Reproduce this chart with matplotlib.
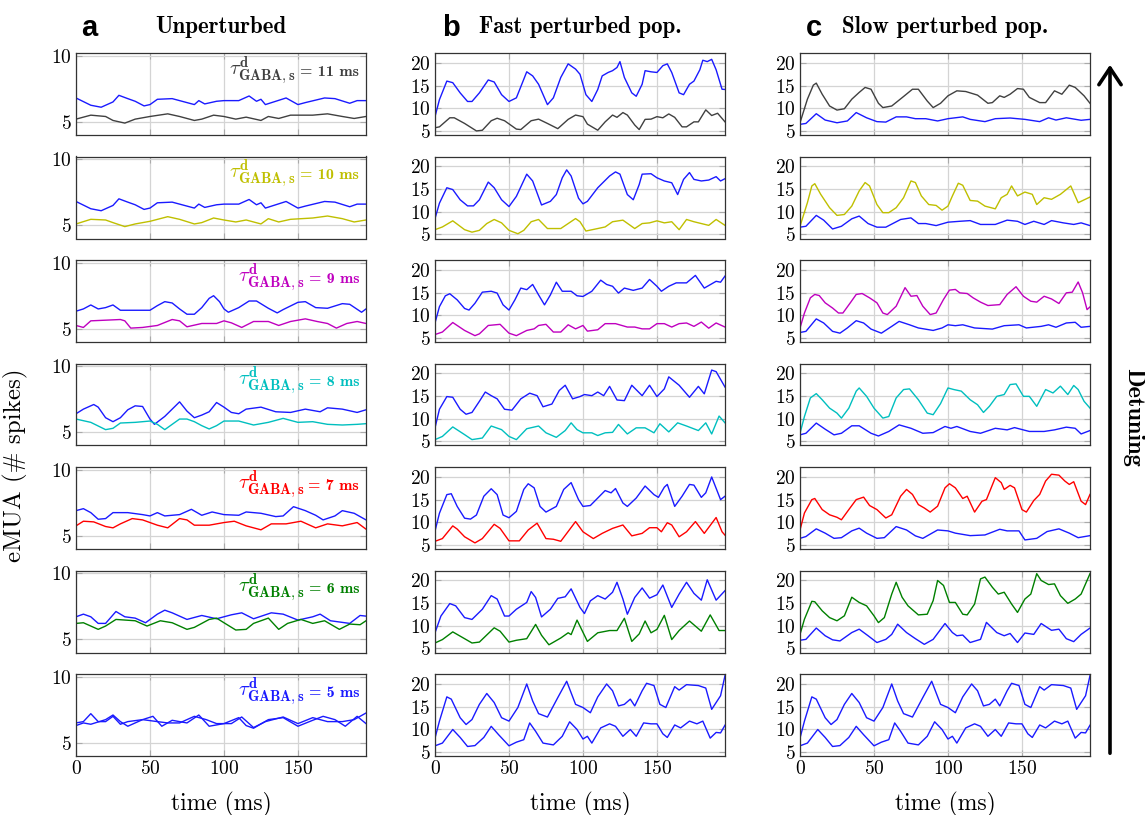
import matplotlib
matplotlib.use("Agg")
import matplotlib.pyplot as plt
import numpy as np
from matplotlib.patches import FancyArrowPatch

plt.rcParams['font.family'] = ['cmr10', 'DejaVu Serif']
plt.rcParams['mathtext.fontset'] = 'cm'
plt.rcParams['axes.formatter.use_mathtext'] = True

# ---- data: (time ms, eMUA) ----
# column a: unperturbed
a_blue_top = [(0, 6.8), (10, 6.25), (17, 6.1), (20, 6.25), (25, 6.5), (29, 7.0), (35, 6.75), (40, 6.55),
              (46, 6.2), (50, 6.3), (55, 6.7), (65, 6.75), (70, 6.6), (80, 6.3), (83, 6.6), (87, 6.35),
              (95, 6.55), (100, 6.6), (110, 6.6), (117, 6.95), (122, 6.55), (125, 6.7), (128, 6.3),
              (135, 6.55), (142, 6.8), (150, 6.3), (155, 6.45), (168, 6.8), (175, 6.75), (185, 6.4),
              (190, 6.6), (196, 6.6)]
a_gray = [(0, 5.2), (10, 5.5), (20, 5.4), (25, 5.1), (33, 4.9), (40, 5.2), (50, 5.4), (62, 5.6), (70, 5.4),
          (80, 5.1), (85, 5.2), (93, 5.5), (100, 5.4), (108, 5.2), (115, 5.35), (125, 5.1), (130, 5.4),
          (137, 5.25), (145, 5.5), (160, 5.5), (170, 5.6), (180, 5.4), (188, 5.25), (196, 5.4)]
a_yellow = [(0, 5.1), (10, 5.45), (20, 5.4), (25, 5.2), (33, 4.9), (40, 5.1), (50, 5.3), (62, 5.65), (70, 5.45),
            (80, 5.1), (85, 5.2), (93, 5.55), (100, 5.4), (108, 5.25), (115, 5.4), (125, 5.1), (130, 5.5),
            (137, 5.25), (145, 5.45), (160, 5.55), (170, 5.7), (180, 5.5), (188, 5.25), (196, 5.4)]
a_blue_9 = [(0, 6.33), (5, 6.5), (10, 6.8), (15, 6.5), (20, 6.6), (25, 6.8), (30, 6.4), (40, 6.4), (50, 6.4),
            (55, 6.75), (60, 7.05), (65, 6.95), (70, 6.5), (75, 6.1), (80, 6.1), (85, 6.6), (90, 7.3), (93, 7.5),
            (97, 7.05), (100, 6.5), (103, 6.25), (110, 6.6), (117, 7.1), (122, 7.1), (130, 6.55), (136, 6.2),
            (140, 6.45), (150, 7.0), (155, 7.05), (162, 6.6), (170, 6.55), (180, 6.9), (185, 6.85),
            (193, 6.25), (196, 6.5)]
a_magenta = [(0, 5.25), (5, 5.1), (10, 5.6), (20, 5.65), (30, 5.7), (33, 5.6), (37, 5.05), (45, 5.1), (55, 5.25),
             (65, 5.7), (70, 5.6), (75, 5.15), (85, 5.4), (95, 5.4), (100, 5.6), (105, 5.45), (112, 5.1),
             (120, 5.55), (130, 5.55), (137, 5.25), (145, 5.55), (155, 5.75), (163, 5.55), (170, 5.4),
             (176, 5.05), (183, 5.4), (190, 5.55), (196, 5.4)]
a_blue_8 = [(0, 6.4), (5, 6.75), (12, 7.1), (15, 6.9), (20, 6.1), (25, 5.8), (30, 6.1), (35, 6.7), (40, 7.0),
            (45, 6.95), (50, 6.0), (53, 5.6), (60, 6.2), (70, 7.3), (75, 6.6), (80, 6.1), (85, 6.3), (90, 6.55),
            (95, 7.25), (100, 6.9), (105, 6.5), (110, 6.4), (115, 6.75), (125, 6.9), (135, 6.55), (145, 6.5),
            (155, 6.75), (165, 6.55), (170, 6.85), (180, 6.75), (190, 6.5), (196, 6.7)]
a_cyan = [(0, 6.0), (10, 5.75), (20, 5.2), (25, 5.3), (30, 5.7), (40, 5.75), (50, 5.85), (55, 5.6), (60, 5.2),
          (65, 5.6), (70, 6.0), (75, 6.0), (80, 5.8), (85, 5.5), (90, 5.25), (95, 5.5), (100, 5.85), (110, 5.85),
          (120, 5.55), (130, 5.75), (140, 6.05), (150, 5.75), (160, 5.8), (170, 5.6), (180, 5.55), (190, 5.6),
          (196, 5.65)]
a_blue_7 = [(0, 6.9), (5, 7.05), (10, 6.75), (15, 6.25), (20, 6.3), (25, 6.75), (35, 6.75), (45, 6.6), (50, 6.5),
            (55, 6.75), (60, 6.5), (70, 6.6), (78, 7.0), (85, 6.55), (92, 6.8), (100, 6.6), (110, 6.55),
            (115, 6.8), (125, 6.7), (135, 6.45), (140, 6.5), (147, 7.2), (155, 6.9), (162, 6.55), (167, 6.2),
            (175, 6.5), (180, 6.9), (188, 6.7), (196, 6.2)]
a_red = [(0, 5.75), (5, 6.1), (12, 6.05), (20, 5.7), (25, 5.6), (30, 5.9), (38, 6.3), (45, 6.2), (55, 5.8),
         (62, 5.6), (70, 6.3), (75, 6.2), (80, 5.8), (90, 5.8), (100, 6.0), (107, 6.1), (115, 5.75), (125, 5.45),
         (132, 5.9), (142, 5.9), (152, 6.1), (162, 5.6), (170, 5.9), (180, 5.75), (190, 6.0), (196, 5.5)]
a_blue_6 = [(0, 6.7), (5, 6.9), (10, 6.7), (15, 6.2), (20, 6.2), (27, 7.1), (33, 6.7), (40, 6.6), (47, 6.25),
            (55, 6.9), (60, 7.2), (65, 7.0), (75, 6.5), (85, 6.8), (95, 6.55), (105, 6.85), (112, 7.0),
            (120, 6.55), (132, 7.0), (140, 6.9), (150, 6.45), (160, 6.7), (165, 6.9), (172, 6.4), (185, 6.2),
            (192, 6.8), (196, 6.75)]
a_green = [(0, 6.2), (5, 6.25), (15, 5.75), (20, 6.0), (27, 6.5), (40, 6.4), (48, 6.0), (57, 6.4), (65, 6.25),
           (75, 5.75), (80, 5.9), (90, 6.5), (95, 6.6), (100, 6.25), (108, 5.7), (115, 5.75), (120, 6.2),
           (130, 6.6), (137, 5.75), (143, 6.2), (152, 6.5), (160, 6.2), (168, 6.4), (178, 5.75), (185, 6.15),
           (192, 6.1), (196, 6.4)]
a_blue_5a = [(0, 6.5), (5, 6.6), (10, 7.2), (15, 6.6), (20, 6.6), (25, 7.0), (30, 6.4), (35, 6.6), (45, 6.75),
             (52, 7.0), (58, 6.25), (65, 6.7), (75, 6.5), (83, 7.1), (90, 6.25), (100, 6.45), (110, 6.9),
             (115, 6.3), (120, 6.1), (130, 6.75), (140, 6.9), (150, 6.25), (160, 6.7), (167, 7.0), (175, 6.75),
             (182, 6.25), (190, 7.0), (196, 6.45)]
a_blue_5b = [(0, 6.3), (5, 6.5), (10, 6.4), (20, 6.75), (25, 7.1), (30, 6.6), (35, 6.25), (45, 6.75), (55, 6.6),
             (62, 6.5), (70, 6.5), (80, 7.0), (88, 6.75), (95, 6.45), (105, 6.45), (112, 6.95), (120, 6.15),
             (128, 6.6), (140, 6.95), (150, 6.45), (160, 6.9), (170, 6.6), (180, 6.6), (188, 6.75), (196, 7.25)]

# column b: fast population perturbed
b_blue_11 = [(0, 8.15), (3, 11.9), (8, 16.0), (12, 15.65), (17, 13.4), (22, 11.5), (25, 11.5), (30, 13.4),
             (36, 16.25), (40, 15.8), (45, 13.0), (50, 11.5), (55, 12.3), (60, 16.4), (62, 18.05), (66, 17.15),
             (70, 15.3), (76, 10.8), (80, 12.3), (85, 16.8), (90, 19.8), (95, 18.65), (98, 17.5), (102, 13.0),
             (106, 11.5), (110, 14.15), (113, 17.15), (117, 17.9), (120, 18.3), (123, 19.0), (125, 20.3),
             (128, 16.8), (133, 13.4), (136, 12.65), (140, 15.3), (142, 18.3), (146, 18.05), (150, 17.9),
             (154, 19.4), (157, 19.8), (160, 17.9), (165, 13.4), (168, 13.0), (172, 15.3), (175, 16.0),
             (179, 18.5), (181, 20.6), (184, 20.3), (187, 20.8), (190, 18.5), (194, 14.2), (196, 14.15)]
b_gray = [(0, 5.7), (3, 5.9), (10, 7.9), (13, 7.9), (20, 6.65), (28, 5.0), (32, 5.15), (38, 7.25), (42, 7.8),
          (47, 7.25), (55, 5.4), (58, 5.3), (65, 7.25), (70, 7.6), (76, 6.65), (83, 5.5), (90, 7.55), (95, 8.5),
          (100, 8.15), (103, 6.5), (110, 5.15), (115, 7.0), (120, 8.5), (123, 8.0), (127, 9.05), (130, 8.5),
          (135, 6.3), (138, 5.3), (142, 7.55), (146, 7.6), (150, 8.15), (154, 7.9), (158, 8.75), (162, 8.0),
          (167, 5.9), (170, 5.9), (175, 7.0), (178, 7.0), (183, 9.65), (187, 8.4), (191, 8.9), (196, 7.0)]
b_blue_10 = [(0, 8.5), (3, 11.9), (8, 15.3), (12, 14.9), (17, 12.65), (22, 11.3), (26, 11.3), (30, 12.65),
             (36, 16.55), (40, 15.3), (45, 12.65), (50, 11.15), (55, 13.4), (62, 18.3), (66, 16.8), (72, 11.5),
             (78, 12.3), (82, 13.8), (86, 17.5), (89, 19.25), (92, 17.9), (97, 13.0), (100, 11.75), (103, 12.3),
             (110, 15.3), (118, 17.9), (122, 18.8), (125, 18.3), (130, 13.8), (134, 12.65), (138, 16.0),
             (140, 18.3), (146, 18.4), (150, 17.5), (155, 16.8), (160, 16.4), (164, 13.8), (168, 17.15),
             (172, 18.65), (175, 17.15), (180, 16.8), (185, 17.0), (190, 17.75), (193, 16.8), (196, 17.3)]
b_yellow = [(0, 6.05), (5, 6.65), (12, 8.0), (20, 6.05), (25, 5.5), (30, 5.9), (35, 7.4), (40, 8.3), (45, 7.55),
            (50, 5.9), (56, 5.15), (60, 5.9), (65, 7.8), (70, 8.3), (76, 6.3), (85, 6.3), (90, 7.4), (95, 8.5),
            (98, 7.8), (102, 5.75), (110, 6.3), (115, 6.65), (120, 7.8), (127, 8.15), (135, 6.3), (140, 7.4),
            (145, 7.55), (150, 8.0), (155, 7.55), (160, 7.8), (165, 6.05), (170, 8.3), (175, 7.8), (185, 7.0),
            (190, 8.3), (196, 7.0)]
b_blue_9 = [(0, 8.3), (3, 11.9), (7, 14.3), (10, 14.75), (15, 13.4), (20, 11.5), (23, 11.15), (27, 12.65),
            (32, 15.1), (38, 15.3), (42, 14.9), (46, 12.3), (50, 11.15), (54, 13.4), (58, 16.0), (62, 15.65),
            (66, 16.8), (70, 14.5), (74, 12.3), (78, 14.5), (82, 17.3), (86, 15.3), (92, 15.3), (96, 14.3),
            (100, 14.15), (106, 15.3), (112, 17.75), (116, 16.8), (120, 16.4), (124, 14.9), (128, 16.0),
            (134, 15.5), (140, 16.0), (145, 17.9), (150, 16.4), (153, 15.3), (158, 16.4), (163, 17.15),
            (170, 17.15), (176, 18.8), (182, 16.0), (190, 17.5), (193, 17.3), (196, 18.65)]
b_magenta = [(0, 5.75), (5, 6.3), (12, 8.4), (20, 6.65), (27, 5.5), (30, 5.9), (36, 7.75), (44, 8.0), (50, 6.05),
             (55, 5.5), (62, 6.65), (67, 7.0), (70, 7.75), (75, 8.0), (80, 6.3), (85, 6.3), (90, 7.9), (95, 7.0),
             (100, 7.75), (103, 6.5), (110, 6.8), (115, 8.15), (122, 8.15), (130, 7.4), (135, 7.4), (140, 7.0),
             (145, 7.0), (150, 8.15), (155, 8.15), (160, 7.4), (165, 8.15), (170, 8.3), (175, 7.55), (180, 8.5),
             (185, 7.15), (190, 8.3), (196, 7.4)]
b_blue_8 = [(0, 8.0), (3, 12.1), (8, 14.9), (12, 14.75), (17, 12.1), (21, 11.0), (25, 11.4), (30, 13.85),
            (34, 15.9), (38, 15.1), (42, 14.4), (47, 12.1), (52, 11.9), (58, 14.4), (64, 15.65), (69, 15.1),
            (73, 12.65), (79, 13.25), (84, 16.25), (88, 17.4), (93, 14.4), (98, 14.9), (101, 15.35), (106, 15.1),
            (110, 15.9), (114, 15.1), (118, 17.15), (123, 14.15), (128, 14.0), (133, 17.4), (140, 15.1),
            (145, 17.4), (150, 14.9), (155, 16.6), (158, 19.25), (165, 17.4), (172, 14.75), (178, 17.15),
            (182, 15.5), (187, 20.75), (190, 20.4), (196, 17.0)]
b_cyan = [(0, 5.4), (5, 6.1), (12, 8.2), (20, 6.5), (25, 5.4), (32, 5.75), (38, 8.4), (45, 7.6), (50, 6.1),
          (55, 5.4), (62, 7.8), (70, 8.4), (75, 6.9), (82, 5.9), (88, 7.4), (92, 9.1), (96, 7.6), (100, 6.9),
          (106, 6.9), (110, 6.3), (115, 6.9), (120, 7.0), (124, 8.75), (130, 6.65), (136, 8.0), (142, 8.0),
          (148, 6.9), (152, 8.9), (158, 7.1), (164, 9.1), (170, 8.4), (178, 7.4), (183, 9.1), (187, 6.65),
          (192, 10.6), (196, 9.1)]
b_blue_7 = [(0, 8.05), (3, 12.0), (8, 16.1), (11, 16.3), (15, 13.5), (20, 10.9), (24, 10.7), (28, 11.6),
            (33, 15.75), (38, 17.4), (42, 16.1), (46, 11.6), (50, 11.0), (55, 12.4), (60, 17.25), (63, 18.5),
            (67, 17.6), (71, 13.5), (75, 12.25), (82, 13.5), (87, 17.25), (92, 18.75), (97, 15.0), (100, 13.5),
            (105, 13.7), (110, 15.35), (115, 17.0), (119, 16.5), (122, 17.45), (127, 14.25), (130, 13.5),
            (136, 15.35), (142, 18.0), (148, 16.1), (151, 15.5), (155, 17.75), (157, 18.35), (162, 13.5),
            (167, 15.75), (172, 18.35), (175, 18.2), (180, 15.5), (183, 16.5), (187, 20.0), (193, 15.0),
            (196, 15.75)]
b_red = [(0, 5.8), (5, 6.4), (12, 9.2), (15, 8.5), (20, 6.8), (27, 5.45), (32, 6.4), (40, 9.55), (44, 8.65),
         (50, 5.9), (57, 5.9), (63, 8.3), (69, 9.8), (75, 6.4), (80, 6.25), (85, 5.8), (95, 10.15), (100, 7.9),
         (107, 6.4), (113, 7.55), (120, 8.65), (127, 9.4), (133, 7.0), (140, 7.55), (145, 8.8), (150, 8.8),
         (153, 7.9), (157, 9.9), (160, 9.4), (165, 6.8), (170, 7.9), (176, 10.15), (182, 7.55), (190, 11.05),
         (194, 7.9), (196, 7.15)]
b_blue_6 = [(0, 8.45), (4, 12.15), (10, 14.9), (14, 14.4), (20, 11.8), (25, 11.4), (32, 13.65), (38, 16.65),
            (42, 15.9), (47, 12.15), (50, 12.15), (55, 13.65), (62, 15.15), (65, 17.55), (68, 16.25), (72, 11.95),
            (78, 13.65), (83, 16.05), (88, 16.4), (92, 18.15), (98, 14.05), (101, 12.7), (105, 15.5), (110, 16.65),
            (115, 15.9), (120, 17.4), (123, 19.6), (127, 15.9), (130, 12.55), (135, 16.25), (140, 18.35),
            (145, 16.1), (150, 16.85), (154, 19.0), (160, 14.05), (165, 17.0), (170, 19.6), (175, 17.15),
            (180, 15.65), (184, 20.15), (190, 15.65), (196, 17.75)]
b_green = [(0, 6.2), (5, 6.95), (12, 8.65), (20, 7.15), (25, 6.2), (30, 6.4), (40, 9.55), (44, 8.8), (50, 6.4),
           (55, 6.8), (62, 7.15), (68, 10.3), (72, 7.9), (77, 5.8), (85, 7.3), (90, 8.45), (92, 8.05), (96, 11.25),
           (103, 6.55), (110, 8.45), (118, 8.95), (123, 8.95), (128, 11.65), (133, 6.55), (138, 8.2), (142, 11.05),
           (146, 8.45), (150, 9.2), (155, 12.3), (160, 6.95), (165, 8.95), (172, 11.05), (180, 8.8), (186, 12.4),
           (192, 8.95), (196, 8.95)]
bc_blue_5_top = [(0, 8.05), (3, 11.8), (8, 17.15), (11, 16.65), (17, 12.55), (21, 11.05), (25, 12.15), (30, 15.5),
                 (35, 17.9), (40, 15.9), (45, 12.55), (50, 11.8), (56, 14.8), (62, 20.0), (66, 16.25), (70, 13.45),
                 (76, 12.7), (83, 17.0), (89, 20.6), (95, 15.5), (100, 14.8), (105, 13.65), (110, 17.15),
                 (116, 20.0), (120, 18.5), (124, 15.15), (128, 15.5), (132, 16.65), (135, 15.15), (140, 18.5),
                 (143, 20.15), (148, 19.65), (152, 15.5), (156, 14.8), (162, 19.4), (165, 18.65), (170, 19.85),
                 (178, 19.65), (183, 19.1), (187, 14.4), (190, 15.9), (193, 17.4), (196, 21.85)]
bc_blue_5_bot = [(0, 6.35), (5, 6.95), (12, 9.95), (17, 8.2), (22, 6.2), (27, 6.4), (33, 8.2), (38, 10.65),
                 (43, 8.8), (50, 6.35), (55, 7.15), (60, 7.7), (64, 11.4), (68, 9.55), (73, 6.95), (80, 6.55),
                 (86, 8.45), (91, 11.65), (96, 9.95), (100, 7.85), (103, 8.45), (106, 6.95), (112, 10.3),
                 (118, 11.2), (122, 10.65), (127, 8.45), (132, 9.95), (136, 8.45), (141, 11.4), (146, 11.2),
                 (150, 11.2), (154, 9.0), (157, 8.2), (162, 10.95), (166, 10.3), (172, 11.8), (177, 11.2),
                 (181, 11.8), (186, 8.05), (190, 9.3), (193, 9.2), (196, 10.9)]

# column c: slow population perturbed
c_gray = [(0, 6.8), (5, 12.0), (9, 15.1), (11, 15.55), (15, 13.1), (20, 10.5), (25, 9.6), (30, 9.9), (35, 12.0),
          (40, 13.5), (44, 14.6), (48, 14.2), (53, 11.1), (56, 10.15), (62, 10.5), (70, 12.6), (76, 14.2),
          (80, 14.2), (86, 11.6), (90, 10.15), (95, 11.1), (100, 12.75), (106, 13.85), (112, 13.7), (120, 12.9),
          (127, 11.1), (130, 11.25), (135, 12.75), (138, 12.4), (142, 13.1), (147, 14.35), (151, 14.2),
          (155, 12.4), (162, 11.25), (166, 11.25), (172, 13.85), (177, 13.1), (182, 15.1), (186, 14.6),
          (192, 12.75), (196, 11.1)]
c_blue_11 = [(0, 6.45), (4, 6.65), (11, 8.8), (17, 7.4), (25, 6.8), (32, 7.2), (38, 9.05), (45, 7.9), (52, 7.05),
             (58, 6.95), (65, 8.1), (72, 8.1), (78, 7.7), (85, 7.7), (93, 7.2), (100, 7.7), (110, 8.1), (115, 7.55),
             (125, 7.05), (132, 7.7), (142, 7.85), (152, 7.55), (162, 7.05), (168, 7.9), (173, 7.4), (180, 7.9),
             (190, 7.35), (196, 7.55)]
c_yellow = [(0, 6.8), (5, 12.0), (8, 15.7), (10, 16.2), (14, 13.85), (20, 10.9), (25, 9.2), (30, 9.4), (35, 11.25),
            (40, 14.6), (44, 16.45), (47, 15.7), (52, 11.6), (56, 9.8), (60, 9.8), (65, 10.9), (70, 13.1),
            (75, 16.8), (78, 16.45), (82, 13.5), (87, 11.6), (92, 11.4), (96, 10.35), (100, 11.25), (103, 13.5),
            (107, 16.3), (110, 15.85), (115, 12.5), (120, 12.35), (125, 11.25), (132, 10.65), (136, 13.1),
            (140, 13.85), (143, 15.7), (147, 13.5), (152, 14.35), (157, 13.85), (160, 11.6), (165, 13.1),
            (170, 12.75), (176, 13.85), (183, 15.7), (188, 12.0), (196, 13.25)]
c_blue_10 = [(0, 6.6), (4, 6.8), (11, 9.2), (16, 8.15), (22, 6.2), (28, 6.8), (35, 8.45), (40, 9.05), (46, 7.4),
             (52, 6.6), (58, 6.6), (68, 8.3), (75, 8.65), (80, 7.4), (85, 7.4), (92, 6.95), (100, 7.7), (108, 7.9),
             (115, 8.05), (122, 7.2), (132, 7.2), (140, 8.15), (147, 7.9), (152, 7.2), (158, 7.9), (165, 7.2),
             (170, 8.05), (178, 7.55), (185, 7.2), (190, 7.55), (196, 6.95)]
c_magenta = [(0, 7.2), (3, 10.5), (7, 13.85), (10, 14.6), (13, 14.35), (17, 12.75), (22, 11.6), (26, 10.5),
             (29, 10.5), (34, 12.75), (38, 14.6), (42, 14.8), (47, 13.85), (52, 12.75), (56, 10.5), (59, 10.15),
             (65, 12.0), (71, 16.1), (75, 14.2), (79, 14.35), (83, 12.0), (88, 10.15), (92, 10.5), (97, 13.5),
             (101, 15.55), (105, 15.7), (108, 14.95), (113, 14.8), (117, 13.85), (122, 12.9), (127, 12.15),
             (135, 12.35), (140, 14.6), (146, 16.3), (151, 14.2), (156, 13.1), (160, 12.9), (165, 14.2),
             (170, 13.6), (175, 12.6), (180, 14.95), (184, 15.1), (188, 17.35), (191, 14.95), (194, 11.25),
             (196, 11.85)]
c_blue_9 = [(0, 6.2), (4, 6.45), (11, 9.2), (16, 8.3), (22, 6.45), (27, 6.05), (32, 7.2), (38, 8.8), (43, 8.3),
            (48, 6.95), (55, 6.05), (62, 7.55), (67, 8.65), (74, 7.9), (80, 7.2), (90, 6.65), (96, 7.2), (100, 7.9),
            (105, 7.7), (110, 7.9), (118, 7.2), (130, 6.95), (138, 7.7), (148, 7.9), (153, 7.2), (163, 7.55),
            (168, 7.9), (173, 7.35), (180, 8.3), (186, 8.45), (190, 7.35), (196, 7.55)]
c_cyan = [(0, 6.8), (3, 10.5), (7, 14.6), (11, 15.55), (15, 14.2), (20, 12.35), (25, 11.25), (28, 10.15),
          (33, 12.35), (38, 16.1), (40, 16.8), (45, 14.95), (50, 12.35), (56, 10.15), (60, 10.5), (65, 14.6),
          (70, 16.45), (74, 16.6), (80, 14.2), (86, 11.25), (90, 10.9), (95, 13.35), (100, 16.8), (104, 16.45),
          (109, 16.1), (115, 14.2), (120, 13.1), (124, 11.4), (128, 12.75), (133, 14.95), (138, 15.35),
          (142, 17.55), (146, 17.7), (151, 14.95), (155, 14.95), (160, 12.75), (166, 16.45), (171, 15.7),
          (176, 17.2), (181, 15.35), (185, 17.35), (188, 16.45), (192, 13.85), (196, 12.35)]
c_blue_8 = [(0, 6.45), (4, 6.8), (11, 9.05), (17, 7.7), (23, 6.45), (28, 6.8), (35, 8.45), (40, 8.45), (48, 6.8),
            (53, 6.2), (60, 7.2), (67, 8.65), (75, 7.9), (83, 6.8), (90, 6.95), (98, 8.3), (102, 7.9), (106, 8.3),
            (115, 7.2), (122, 6.8), (132, 7.9), (140, 7.55), (145, 8.05), (155, 7.2), (165, 7.2), (172, 7.55),
            (180, 8.15), (186, 7.9), (190, 6.65), (196, 7.4)]
c_red = [(0, 8.3), (3, 12.05), (8, 15.0), (10, 15.25), (15, 12.8), (20, 11.65), (25, 11.1), (28, 10.55),
         (33, 12.8), (38, 15.0), (43, 15.55), (47, 13.7), (52, 12.8), (58, 10.95), (62, 11.65), (68, 15.75),
         (72, 17.25), (76, 16.15), (80, 13.9), (84, 13.15), (88, 12.25), (93, 13.55), (98, 17.6), (101, 18.5),
         (105, 17.6), (110, 15.25), (113, 15.75), (118, 12.25), (123, 14.65), (126, 15.0), (132, 19.85),
         (136, 18.75), (138, 17.25), (142, 18.15), (145, 17.6), (150, 12.8), (153, 12.25), (158, 14.8),
         (162, 16.15), (166, 19.1), (170, 20.6), (175, 20.4), (179, 19.1), (182, 18.35), (185, 18.95),
         (190, 14.65), (193, 13.9), (196, 16.15)]
c_blue_7 = [(0, 6.45), (4, 6.85), (11, 8.55), (17, 7.6), (23, 6.45), (28, 6.6), (35, 8.1), (40, 8.7), (45, 7.6),
            (52, 6.45), (57, 6.6), (65, 9.05), (72, 8.3), (78, 7.0), (83, 6.45), (93, 8.3), (100, 8.1), (105, 7.6),
            (115, 7.05), (125, 7.2), (135, 8.45), (140, 8.1), (148, 8.1), (152, 6.1), (160, 6.45), (167, 7.95),
            (175, 8.55), (182, 7.6), (188, 6.6), (196, 7.05)]
c_green = [(0, 8.1), (3, 11.45), (8, 15.4), (10, 15.3), (15, 13.3), (20, 11.8), (25, 11.1), (30, 12.2), (35, 16.3),
           (40, 15.15), (45, 14.4), (50, 12.2), (53, 10.7), (57, 11.8), (62, 17.0), (65, 19.6), (69, 16.3),
           (73, 14.4), (80, 12.4), (86, 12.55), (90, 15.55), (93, 20.0), (97, 18.9), (101, 15.15), (105, 15.15),
           (110, 12.55), (113, 12.4), (118, 14.8), (122, 20.35), (125, 20.75), (130, 18.5), (134, 17.0),
           (138, 17.4), (143, 14.8), (147, 12.95), (152, 15.9), (156, 17.0), (160, 21.5), (163, 20.0),
           (168, 19.1), (172, 19.25), (176, 16.65), (181, 14.95), (186, 15.9), (190, 17.0), (196, 21.5)]
c_blue_6 = [(0, 6.8), (4, 7.0), (11, 9.5), (17, 7.8), (22, 6.9), (27, 6.65), (35, 8.5), (40, 9.25), (46, 7.8),
            (52, 6.3), (58, 7.0), (62, 8.1), (66, 10.35), (72, 8.5), (78, 7.15), (84, 5.9), (90, 7.0), (98, 10.5),
            (103, 8.5), (106, 7.8), (110, 7.95), (115, 6.3), (122, 7.0), (126, 10.75), (133, 8.5), (138, 7.8),
            (142, 8.3), (147, 6.3), (152, 8.4), (158, 8.1), (163, 10.5), (170, 9.0), (175, 9.25), (180, 7.15),
            (185, 6.5), (190, 8.1), (196, 9.5)]

tau_values = [11, 10, 9, 8, 7, 6, 5]
row_colors = ['#404040', '#bfbf00', '#bf00bf', '#00bfbf', '#ff0000', '#008000', '#1a1aff']
col_titles = ['Unperturbed', 'Fast perturbed pop.', 'Slow perturbed pop.']
panel_letters = ['a', 'b', 'c']

BLUE = '#1a1aff'
# each panel: list of (curve, colour)
col_a = [[(a_blue_top, BLUE), (a_gray, row_colors[0])],
         [(a_blue_top, BLUE), (a_yellow, row_colors[1])],
         [(a_blue_9, BLUE), (a_magenta, row_colors[2])],
         [(a_blue_8, BLUE), (a_cyan, row_colors[3])],
         [(a_blue_7, BLUE), (a_red, row_colors[4])],
         [(a_blue_6, BLUE), (a_green, row_colors[5])],
         [(a_blue_5a, BLUE), (a_blue_5b, BLUE)]]
col_b = [[(b_blue_11, BLUE), (b_gray, row_colors[0])],
         [(b_blue_10, BLUE), (b_yellow, row_colors[1])],
         [(b_blue_9, BLUE), (b_magenta, row_colors[2])],
         [(b_blue_8, BLUE), (b_cyan, row_colors[3])],
         [(b_blue_7, BLUE), (b_red, row_colors[4])],
         [(b_blue_6, BLUE), (b_green, row_colors[5])],
         [(bc_blue_5_top, BLUE), (bc_blue_5_bot, BLUE)]]
col_c = [[(c_gray, row_colors[0]), (c_blue_11, BLUE)],
         [(c_yellow, row_colors[1]), (c_blue_10, BLUE)],
         [(c_magenta, row_colors[2]), (c_blue_9, BLUE)],
         [(c_cyan, row_colors[3]), (c_blue_8, BLUE)],
         [(c_red, row_colors[4]), (c_blue_7, BLUE)],
         [(c_green, row_colors[5]), (c_blue_6, BLUE)],
         [(bc_blue_5_top, BLUE), (bc_blue_5_bot, BLUE)]]

W, H = 1145, 815
fig = plt.figure(figsize=(W / 100, H / 100), dpi=100)
renderer = fig.canvas.get_renderer()

col_left = [76, 435, 800]
ax_w = 290
row_top0, row_step, ax_h = 53, 103.5, 82

FRAME = '#333333'
GRID = '#d4d4d4'

for ci, panels in enumerate([col_a, col_b, col_c]):
    for ri, curves in enumerate(panels):
        top = row_top0 + ri * row_step
        ax = fig.add_axes([col_left[ci] / W, 1 - (top + ax_h) / H, ax_w / W, ax_h / H])
        for curve, color in curves:
            t, v = np.array(curve).T
            ax.plot(t, v, color=color, lw=1.0, solid_joinstyle='round')
        ax.set_xlim(0, 196)
        ax.set_xticks([0, 50, 100, 150])
        if ci == 0:
            ax.set_ylim(4, 10.2)
            ax.set_yticks([5, 10])
        else:
            ax.set_ylim(4.1, 22.2)
            ax.set_yticks([5, 10, 15, 20])
        ax.grid(True, color=GRID, lw=0.9)
        ax.set_axisbelow(True)
        ax.tick_params(direction='in', length=4, width=0.8, color='#aaaaaa',
                       top=True, right=True, labelsize=14, pad=3)
        for s in ax.spines.values():
            s.set_color(FRAME)
            s.set_linewidth(0.9)
        if ri < 6:
            ax.tick_params(labelbottom=False)
        else:
            ax.set_xlabel('time (ms)', fontsize=17, labelpad=10)
        if ci == 0:
            # tau label: "= N ms" part first, the symbol placed just to its left
            rhs = ax.text(0.976, 0.72, '= %d ms' % tau_values[ri], family='cmb10',
                          fontsize=11.5, color=row_colors[ri], transform=ax.transAxes,
                          ha='right', va='baseline')
            bb = rhs.get_window_extent(renderer=renderer)
            x_left = ax.transAxes.inverted().transform((bb.x0 - 4, bb.y0))[0]
            ax.text(x_left, 0.72, r'$\tau^{\mathbf{d}}_{\mathbf{GABA,s}}$',
                    fontsize=15, color=row_colors[ri], transform=ax.transAxes,
                    ha='right', va='baseline')
        if ri == 0:
            cx = (col_left[ci] + ax_w / 2) / W
            fig.text(cx, 1 - 27 / H, col_titles[ci], family='cmb10', fontsize=16.5,
                     ha='center', va='center')

letter_x = [89, 451, 814]
for x, letter in zip(letter_x, panel_letters):
    fig.text(x / W, 1 - 28 / H, letter, family='Liberation Sans', weight='bold',
             fontsize=21, ha='center', va='center')

fig.text(15 / W, 1 - 465 / H, 'eMUA (# spikes)', rotation=90, fontsize=18,
         ha='center', va='center')

arrow = FancyArrowPatch((1110 / W, 1 - 756 / H), (1110 / W, 1 - 62 / H),
                        transform=fig.transFigure, arrowstyle='->,head_width=0.4,head_length=0.6',
                        mutation_scale=20, lw=2.6, color='black')
fig.add_artist(arrow)
fig.text(1133 / W, 1 - 417 / H, 'Detuning', family='cmb10', rotation=-90,
         fontsize=17.5, ha='center', va='center')

fig.savefig('out.png', dpi=100)
